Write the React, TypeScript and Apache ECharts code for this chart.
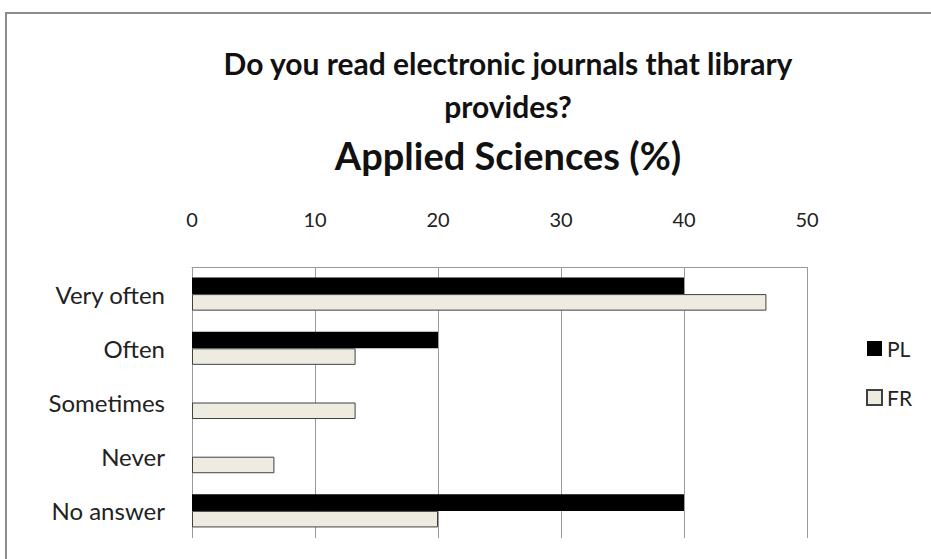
import React, { useEffect, useRef } from "react";
import * as echarts from "echarts";

const categories = ["Very often", "Often", "Sometimes", "Never", "No answer"];
const plValues = [40, 20, 0, 0, 40];
const frValues = [46.7, 13.3, 13.3, 6.7, 20];
const seriesNames = ["PL", "FR"];
const titleLine1 = "Do you read electronic journals that library";
const titleLine2 = "provides?";
const subtitle = "Applied Sciences (%)";

export default function App() {
  const ref = useRef<HTMLDivElement>(null);
  useEffect(() => {
    const chart = echarts.init(ref.current!, null, { renderer: "svg" });
    const font = "Lato, 'Open Sans', sans-serif";
    chart.setOption({
      animation: false,
      backgroundColor: "#ffffff",
      textStyle: { fontFamily: font },
      graphic: [
        {
          type: "rect",
          shape: { x: 6, y: 13, width: 960, height: 600 },
          style: { fill: "none", stroke: "#8c8c8c", lineWidth: 2 },
          silent: true,
        },
        {
          type: "text",
          x: 508,
          y: 63,
          style: {
            text: titleLine1,
            font: `bold 30px ${font}`,
            fill: "#111",
            textAlign: "center",
            textVerticalAlign: "middle",
          },
        },
        {
          type: "text",
          x: 508,
          y: 106,
          style: {
            text: titleLine2,
            font: `bold 30px ${font}`,
            fill: "#111",
            textAlign: "center",
            textVerticalAlign: "middle",
          },
        },
        {
          type: "text",
          x: 508,
          y: 155,
          style: {
            text: subtitle,
            font: `bold 38px ${font}`,
            fill: "#111",
            textAlign: "center",
            textVerticalAlign: "middle",
          },
        },
      ],
      legend: {
        data: seriesNames,
        orient: "vertical",
        left: 861,
        top: 333,
        itemWidth: 15,
        itemHeight: 15,
        itemGap: 28,
        icon: "rect",
        textStyle: { fontSize: 21, color: "#222", fontFamily: font },
      },
      grid: { left: 192, right: 124, top: 267, bottom: 21, containLabel: false },
      xAxis: {
        type: "value",
        position: "top",
        min: 0,
        max: 50,
        interval: 10,
        axisLine: { show: true, lineStyle: { color: "#9a9a9a", width: 1 } },
        axisTick: { show: false },
        axisLabel: { fontSize: 20, color: "#222", margin: 38, fontFamily: font },
        splitLine: { show: true, lineStyle: { color: "#9a9a9a", width: 1 } },
      },
      yAxis: {
        type: "category",
        data: categories,
        inverse: true,
        axisLine: { show: false },
        axisTick: { show: false },
        axisLabel: { fontSize: 24, color: "#222", margin: 27, fontFamily: font },
      },
      series: [
        {
          name: seriesNames[0],
          type: "bar",
          data: plValues,
          barGap: "0%",
          barCategoryGap: "39%",
          itemStyle: { color: "#000000" },
        },
        {
          name: seriesNames[1],
          type: "bar",
          data: frValues,
          barGap: "0%",
          barCategoryGap: "39%",
          itemStyle: { color: "#EEECE1", borderColor: "#404040", borderWidth: 1 },
        },
      ],
    });
    return () => chart.dispose();
  }, []);
  return (
    <div
      ref={ref}
      style={{ position: "fixed", left: 0, top: 0, width: 931, height: 559 }}
    />
  );
}
